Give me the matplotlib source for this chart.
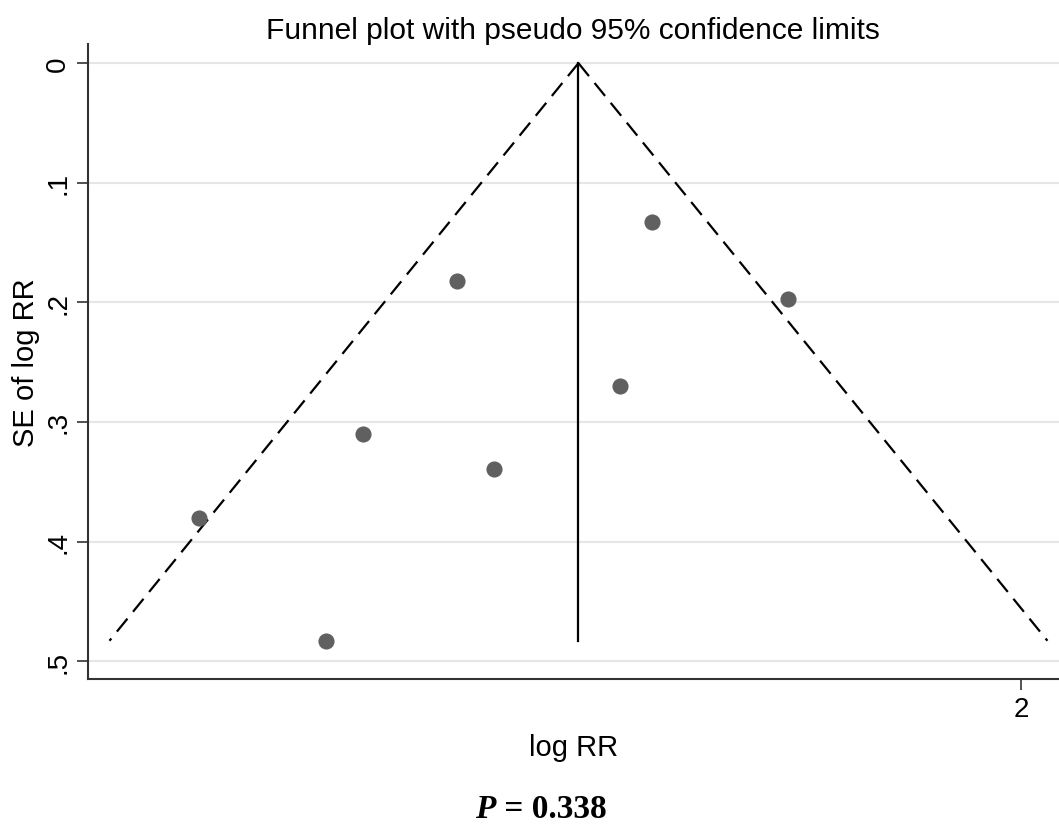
import matplotlib.pyplot as plt
import numpy as np

# study estimates
log_rr = [0.342, 0.597, 0.673, 0.862, 0.936, 1.191, 1.256, 1.529]
se_log_rr = [0.380, 0.483, 0.310, 0.182, 0.339, 0.270, 0.133, 0.197]
pooled = 1.107
p_value = "0.338"

plt.rcParams['font.family'] = ['Liberation Sans', 'DejaVu Sans']
fig = plt.figure(figsize=(10.59, 8.29), dpi=100)
ax = fig.add_axes([0.0831, 0.1797, 0.9169, 0.766])

se_max = max(se_log_rr)
se_line = np.array([0, se_max])
ax.plot(pooled - 1.96 * se_line, se_line, color='k', lw=1.6, ls=(0, (7.5, 4)))
ax.plot(pooled + 1.96 * se_line, se_line, color='k', lw=1.6, ls=(0, (7.5, 4)))
ax.plot([pooled, pooled], [0, se_max], color='k', lw=1.6)
ax.scatter(log_rr, se_log_rr, s=135, color='#606060', zorder=3, linewidths=0)

ax.set_xlim(0.117, 2.077)
ax.set_ylim(0.515, -0.016)
ax.set_yticks([0, .1, .2, .3, .4, .5])
ax.set_yticklabels(['0', '.1', '.2', '.3', '.4', '.5'], rotation=90, va='center',
                   fontsize=20)
ax.set_xticks([2])
ax.set_xticklabels(['2'], fontsize=20)
ax.grid(axis='y', color='#e6e6e6', lw=1.5)
ax.set_axisbelow(True)
ax.tick_params(length=8, width=1.2, color='#333333', pad=4)
for s in ['top', 'right']:
    ax.spines[s].set_visible(False)
for s in ['left', 'bottom']:
    ax.spines[s].set_linewidth(1.5)
    ax.spines[s].set_color('#333333')

ax.set_ylabel('SE of log RR', fontsize=21, labelpad=4)
ax.set_xlabel('log RR', fontsize=21, labelpad=8)
fig.text(0.541, 0.963, 'Funnel plot with pseudo 95% confidence limits',
         ha='center', va='center', fontsize=21.5)
fig.text(0.468, 0.023, 'P', ha='right', va='center', fontsize=24,
         family='Liberation Serif', weight='bold', style='italic')
fig.text(0.468, 0.023, ' = ' + p_value, ha='left', va='center', fontsize=24,
         family='Liberation Serif', weight='bold')

plt.savefig('out.png', dpi=100)
